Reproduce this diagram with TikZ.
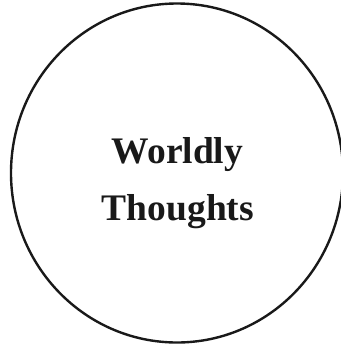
\documentclass[tikz,border=0pt]{standalone}
\usepackage{fontspec}
\setmainfont{Liberation Serif}
\usetikzlibrary{shapes.geometric}
\tikzset{
  ring/.style={draw=black!90, line width=2.4bp},
  label/.style={font=\fontsize{37.5bp}{44bp}\selectfont\bfseries, text=black!90, inner sep=0pt, anchor=base}
}
\begin{document}
\begin{tikzpicture}[x=1bp,y=-1bp]
\useasboundingbox (0,0) rectangle (341,344);
\clip (0,0) rectangle (341,344);
\node[ring, ellipse, minimum width=332bp, minimum height=339bp, inner sep=0pt] (circ) at (177,173) {};
\node[label] (w) at (177.5,163) {Worldly};
\node[label] (t) at (178,220) {Thoughts};
\end{tikzpicture}
\end{document}
